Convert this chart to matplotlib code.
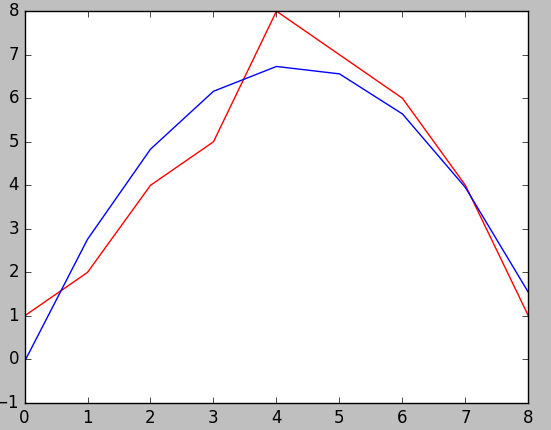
import matplotlib
matplotlib.use("Agg")
import matplotlib.pyplot as plt

x = [0, 1, 2, 3, 4, 5, 6, 7, 8]
y_red = [1, 2, 4, 5, 8, 7, 6, 4, 1]
y_blue = [-0.05, 2.76, 4.83, 6.16, 6.73, 6.56, 5.64, 3.95, 1.54]

plt.style.use("classic")

fig = plt.figure(figsize=(5.51, 4.30), dpi=100, facecolor="0.75")
fig.subplots_adjust(left=0.0445, right=0.959, bottom=0.0628, top=0.974)
ax = fig.add_subplot(111)

ax.plot(x, y_red, color="r")
ax.plot(x, y_blue, color="b")
ax.set_xlim(0, 8)
ax.set_ylim(-1, 8)

fig.savefig("out.png", dpi=100, facecolor=fig.get_facecolor())
